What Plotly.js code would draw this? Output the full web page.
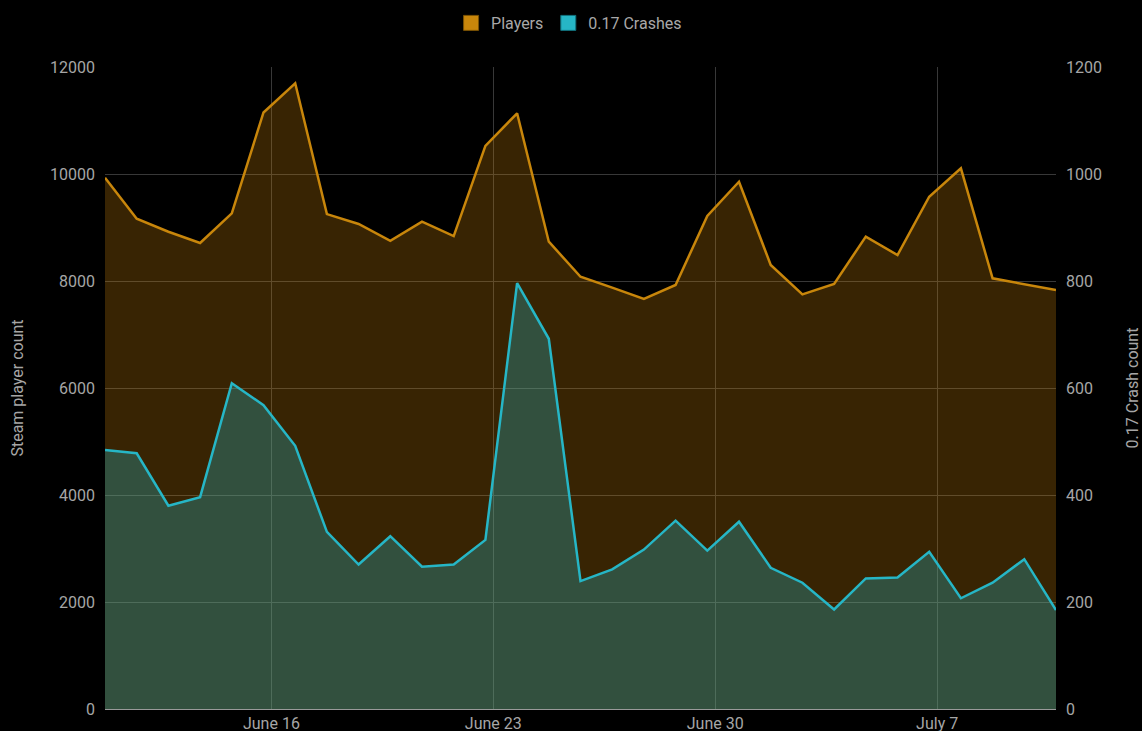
<!DOCTYPE html>
<html>
<head>
<meta charset="utf-8">
<script src="https://cdn.plot.ly/plotly-3.0.1.min.js"></script>
<style>
  html, body { margin: 0; padding: 0; background: #000; }
  #chart { width: 1142px; height: 731px; }
</style>
</head>
<body>
<div id="chart"></div>
<script>
const dates = [
  '2019-06-10 18:00', '2019-06-11 18:00', '2019-06-12 18:00', '2019-06-13 18:00', '2019-06-14 18:00',
  '2019-06-15 18:00', '2019-06-16 18:00', '2019-06-17 18:00', '2019-06-18 18:00', '2019-06-19 18:00',
  '2019-06-20 18:00', '2019-06-21 18:00', '2019-06-22 18:00', '2019-06-23 18:00', '2019-06-24 18:00',
  '2019-06-25 18:00', '2019-06-26 18:00', '2019-06-27 18:00', '2019-06-28 18:00', '2019-06-29 18:00',
  '2019-06-30 18:00', '2019-07-01 18:00', '2019-07-02 18:00', '2019-07-03 18:00', '2019-07-04 18:00',
  '2019-07-05 18:00', '2019-07-06 18:00', '2019-07-07 18:00', '2019-07-08 18:00', '2019-07-09 18:00',
  '2019-07-10 18:00'
];
const players = [
  9930, 9165, 8920, 8710, 9265, 11150, 11695, 9250, 9065, 8750,
  9110, 8840, 10525, 11135, 8735, 8080, 7875, 7665, 7925, 9215,
  9855, 8300, 7750, 7945, 8830, 8485, 9575, 10105, 8050, 7940,
  7830
];
const crashes = [
  484, 478, 380, 396, 609, 568, 492, 331, 270, 323,
  266, 270, 316, 796, 692, 239, 261, 298, 352, 296,
  350, 264, 236, 186, 244, 246, 294, 207, 236, 280,
  185
];
const seriesNames = ['Players', '0.17 Crashes'];
const leftTicks = [0, 2000, 4000, 6000, 8000, 10000, 12000];
const rightTicks = [0, 200, 400, 600, 800, 1000, 1200];
const xTicks = ['2019-06-16', '2019-06-23', '2019-06-30', '2019-07-07'];
const xTickText = ['June 16', 'June 23', 'June 30', 'July 7'];

const orange = '#c8860b';
const cyan = '#26b6c6';
const txt = '#a6a6a6';
const FS = 16;

const traces = [
  {
    x: dates, y: players, type: 'scatter', mode: 'lines', name: seriesNames[0],
    line: {color: orange, width: 2.5}, fill: 'tozeroy', fillcolor: 'rgba(200,130,10,0.28)',
    showlegend: false, hoverinfo: 'x+y'
  },
  {
    x: dates, y: crashes, type: 'scatter', mode: 'lines', name: seriesNames[1], yaxis: 'y2',
    line: {color: cyan, width: 2.5}, fill: 'tozeroy', fillcolor: 'rgba(38,182,198,0.30)',
    showlegend: false, hoverinfo: 'x+y'
  },
  {
    x: [null], y: [null], type: 'scatter', mode: 'markers', name: seriesNames[0],
    marker: {symbol: 'square', size: 15, color: orange, line: {color: '#7a5204', width: 1}},
    showlegend: true, hoverinfo: 'skip'
  },
  {
    x: [null], y: [null], type: 'scatter', mode: 'markers', name: seriesNames[1],
    marker: {symbol: 'square', size: 15, color: cyan, line: {color: '#11707b', width: 1}},
    showlegend: true, hoverinfo: 'skip'
  }
];

const layout = {
  width: 1142, height: 731,
  paper_bgcolor: '#000', plot_bgcolor: '#000',
  font: {family: 'Roboto, sans-serif', size: FS, color: txt},
  margin: {l: 105, r: 86, t: 67, b: 22, pad: 0},
  showlegend: true,
  legend: {
    orientation: 'h', xref: 'paper', x: 0.488, xanchor: 'center',
    yref: 'container', y: 1 - 23 / 731, yanchor: 'middle',
    font: {family: 'Roboto, sans-serif', size: FS, color: '#a8a8a8'},
    bgcolor: 'rgba(0,0,0,0)', itemclick: false, itemsizing: 'trace'
  },
  xaxis: {
    type: 'date', range: [dates[0], dates[dates.length - 1]],
    tickvals: xTicks, ticktext: xTickText,
    showgrid: true, gridcolor: '#383838', gridwidth: 1,
    showline: true, linecolor: '#9a9a9a', linewidth: 1,
    zeroline: false, ticks: '', ticklabelstandoff: 0,
    tickfont: {size: FS, color: txt}, fixedrange: true
  },
  yaxis: {
    range: [0, 12000], tickvals: leftTicks, ticktext: leftTicks.map(String),
    showgrid: true, gridcolor: '#383838', gridwidth: 1,
    zeroline: false, showline: false, ticks: '', ticklabelstandoff: 9,
    tickfont: {size: FS, color: txt},
    title: {text: 'Steam player count', font: {size: FS, color: txt}, standoff: 22},
    fixedrange: true
  },
  yaxis2: {
    range: [0, 1200], tickvals: rightTicks, ticktext: rightTicks.map(String),
    overlaying: 'y', side: 'right',
    showgrid: false, zeroline: false, showline: false, ticks: '', ticklabelstandoff: 9,
    tickfont: {size: FS, color: txt},
    title: {text: '0.17 Crash count', font: {size: FS, color: txt}, standoff: 26},
    fixedrange: true
  }
};

Plotly.newPlot('chart', traces, layout, {displayModeBar: false, responsive: false});
</script>
</body>
</html>
